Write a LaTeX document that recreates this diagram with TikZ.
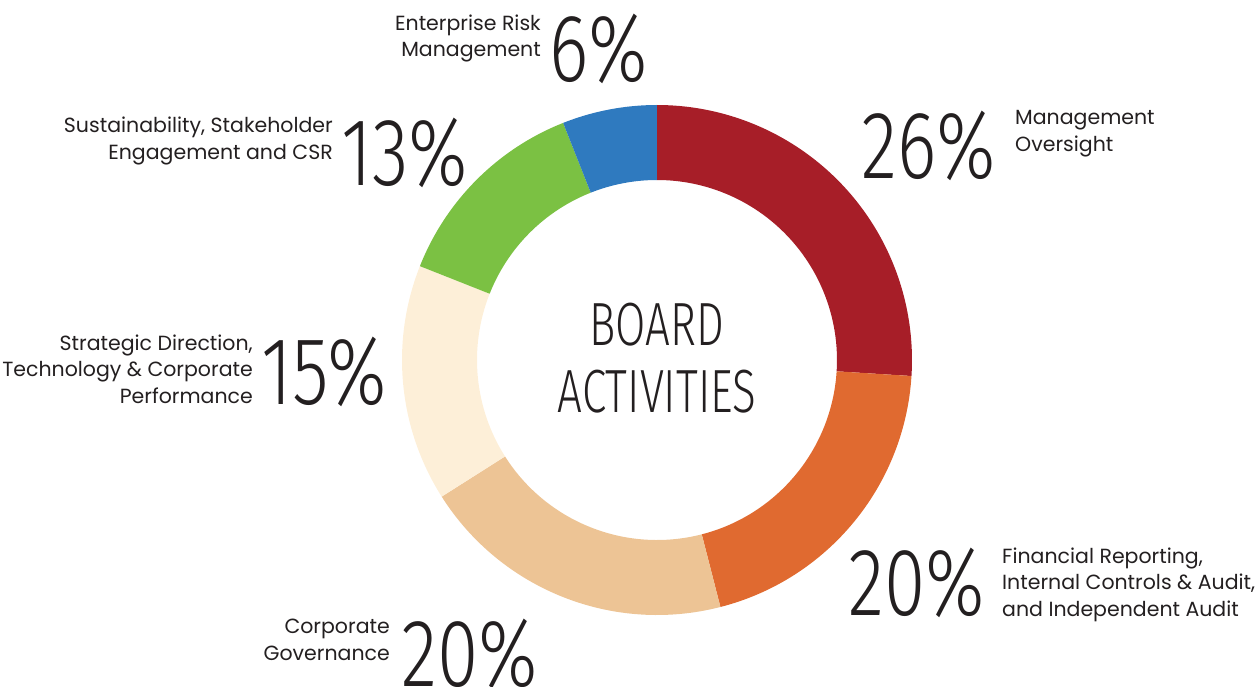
\documentclass[tikz,border=0pt]{standalone}
\usepackage{fontspec}
\setmainfont{Poppins}
\newfontfamily\numfont{Fira Sans}[UprightFont=* Light, FakeStretch=0.78]
\newfontfamily\titlefont{Fira Sans}[UprightFont=* Light, FakeStretch=0.72]
\usetikzlibrary{positioning}
\definecolor{custom-red}{RGB}{167, 30, 40}
\definecolor{custom-orange}{RGB}{224, 106, 48}
\definecolor{custom-tan}{RGB}{237, 196, 149}
\definecolor{custom-cream}{RGB}{253, 239, 216}
\definecolor{custom-green}{RGB}{123, 193, 67}
\definecolor{custom-blue}{RGB}{47, 122, 191}
\definecolor{custom-text}{RGB}{35, 31, 32}

\begin{document}
\begin{tikzpicture}[x=1pt, y=1pt,
    num/.style={inner sep=0pt, text=custom-text, font=\numfont\fontsize{96}{96}\selectfont},
    title/.style={inner sep=0pt, text=custom-text, font=\titlefont\fontsize{61}{61}\selectfont},
    lbl/.style={inner sep=0pt, text=custom-text, font=\fontsize{20.5}{26.5}\selectfont}]
\useasboundingbox (-657,-326) rectangle (601,360);

\fill[custom-red] (90:255) arc[start angle=90, end angle=-3.6, radius=255] -- (-3.6:180) arc[start angle=-3.6, end angle=90, radius=180] -- cycle;
\fill[custom-orange] (-3.6:255) arc[start angle=-3.6, end angle=-75.6, radius=255] -- (-75.6:180) arc[start angle=-75.6, end angle=-3.6, radius=180] -- cycle;
\fill[custom-tan] (-75.6:255) arc[start angle=-75.6, end angle=-147.6, radius=255] -- (-147.6:180) arc[start angle=-147.6, end angle=-75.6, radius=180] -- cycle;
\fill[custom-cream] (-147.6:255) arc[start angle=-147.6, end angle=-201.6, radius=255] -- (-201.6:180) arc[start angle=-201.6, end angle=-147.6, radius=180] -- cycle;
\fill[custom-green] (-201.6:255) arc[start angle=-201.6, end angle=-248.4, radius=255] -- (-248.4:180) arc[start angle=-248.4, end angle=-201.6, radius=180] -- cycle;
\fill[custom-blue] (-248.4:255) arc[start angle=-248.4, end angle=-270, radius=255] -- (-270:180) arc[start angle=-270, end angle=-248.4, radius=180] -- cycle;

\node[title, anchor=base] (board) at (0,15) {BOARD};
\node[title, anchor=base] (activities) at (0,-52) {ACTIVITIES};

\node[num, anchor=base west] (pct-erm) at (-108,278) {6\%};
\node[lbl, align=right, anchor=base east] (lbl-erm) at (-116,303) {Enterprise Risk\\Management};

\node[num, anchor=base west] (pct-csr) at (-316,175) {13\%};
\node[lbl, align=right, anchor=base east] (lbl-csr) at (-324,201) {Sustainability, Stakeholder\\Engagement and CSR};

\node[num, anchor=base west] (pct-mgmt) at (204,182) {26\%};
\node[lbl, align=left, anchor=base west] (lbl-mgmt) at (358,209) {Management\\Oversight};

\node[num, anchor=base west] (pct-strat) at (-396,-44) {15\%};
\node[lbl, align=right, anchor=base east] (lbl-strat) at (-404,-43) {Strategic Direction,\\Technology \& Corporate\\Performance};

\node[num, anchor=base west] (pct-fin) at (191,-255) {20\%};
\node[lbl, align=left, anchor=base west] (lbl-fin) at (345,-256) {Financial Reporting,\\Internal Controls \& Audit,\\and Independent Audit};

\node[num, anchor=base west] (pct-gov) at (-256,-326) {20\%};
\node[lbl, align=right, anchor=base east] (lbl-gov) at (-267,-300) {Corporate\\Governance};
\end{tikzpicture}
\end{document}
